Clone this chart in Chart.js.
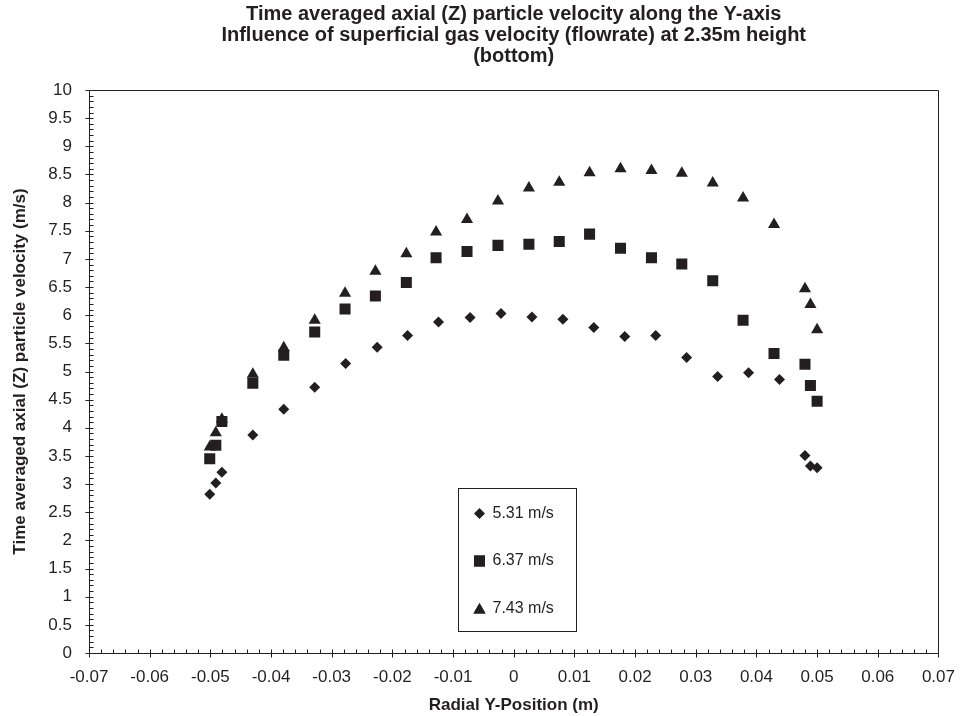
<!DOCTYPE html>
<html>
<head>
<meta charset="utf-8">
<script src="https://cdn.jsdelivr.net/npm/chart.js@4"></script>
<style>
  html, body { margin: 0; padding: 0; background: #fff; }
  #wrap { width: 961px; height: 716px; }
</style>
</head>
<body>
<div id="wrap"><canvas id="chart" width="961" height="716"></canvas></div>
<script>
// Radial positions (m) and time averaged axial velocities (m/s) per flowrate
const xLow = [-0.0501, -0.0491, -0.0481, -0.0430, -0.0379, -0.0328, -0.0277, -0.0225, -0.0175, -0.0124,
  -0.0072, -0.0021, 0.0030, 0.0081, 0.0132, 0.0183, 0.0234, 0.0285, 0.0336, 0.0387, 0.0438, 0.0480, 0.0489, 0.0500];
const vLow = [2.82, 3.02, 3.21, 3.87, 4.33, 4.72, 5.14, 5.43, 5.64, 5.88,
  5.96, 6.03, 5.97, 5.93, 5.78, 5.62, 5.64, 5.25, 4.91, 4.98, 4.86, 3.51, 3.32, 3.29];

const xMid = [-0.0501, -0.0491, -0.0481, -0.0430, -0.0379, -0.0328, -0.0278, -0.0228, -0.0177, -0.0128,
  -0.0077, -0.0026, 0.0025, 0.0075, 0.0125, 0.0176, 0.0227, 0.0277, 0.0328, 0.0378, 0.0429, 0.0480, 0.0489, 0.0500];
const vMid = [3.45, 3.69, 4.11, 4.79, 5.29, 5.70, 6.11, 6.34, 6.58, 7.02,
  7.13, 7.24, 7.26, 7.31, 7.44, 7.19, 7.02, 6.91, 6.61, 5.91, 5.32, 5.13, 4.75, 4.47];

const xHigh = xMid;
const vHigh = [3.66, 3.91, 4.15, 4.95, 5.42, 5.91, 6.39, 6.78, 7.09, 7.48,
  7.70, 8.03, 8.26, 8.36, 8.53, 8.60, 8.57, 8.52, 8.35, 8.08, 7.61, 6.47, 6.19, 5.74];

const seriesLabels = ['5.31 m/s', '6.37 m/s', '7.43 m/s'];

const titleLines = [
  'Time averaged axial (Z) particle velocity along the Y-axis',
  'Influence of superficial gas velocity (flowrate) at 2.35m height',
  '(bottom)'
];
const xTitle = 'Radial Y-Position (m)';
const yTitle = 'Time averaged axial (Z) particle velocity (m/s)';

const INK = '#231f20';
const FONT = "'Liberation Sans', Arial, sans-serif";

function pts(xs, ys) {
  return xs.map((x, i) => ({ x: x, y: ys[i] }));
}

// Excel-style frame: box round the plot, crossing major ticks, inside minor ticks
const framePlugin = {
  id: 'frame',
  afterDraw(chart) {
    const { ctx, chartArea: a, scales } = chart;
    const xs = scales.x, ys = scales.y;
    ctx.save();
    ctx.strokeStyle = INK;
    ctx.lineWidth = 1;
    ctx.beginPath();
    ctx.rect(Math.round(a.left) + 0.5, Math.round(a.top) + 0.5,
      Math.round(a.right - a.left), Math.round(a.bottom - a.top));
    ctx.stroke();

    ctx.beginPath();
    const yb = Math.round(a.bottom) + 0.5;
    for (let i = 0; i <= 70; i++) {
      const v = -0.07 + i * 0.002;
      const px = Math.round(xs.getPixelForValue(v)) + 0.5;
      if (i % 5 === 0) { ctx.moveTo(px, yb - 4); ctx.lineTo(px, yb + 4); }
      else { ctx.moveTo(px, yb); ctx.lineTo(px, yb - 4); }
    }
    const xl = Math.round(a.left) + 0.5;
    for (let i = 0; i <= 100; i++) {
      const v = i * 0.1;
      const py = Math.round(ys.getPixelForValue(v)) + 0.5;
      if (i % 5 === 0) { ctx.moveTo(xl - 4, py); ctx.lineTo(xl + 4, py); }
      else { ctx.moveTo(xl, py); ctx.lineTo(xl + 4, py); }
    }
    ctx.stroke();
    ctx.restore();
  }
};

// Boxed legend sitting inside the plot area
const boxLegend = {
  id: 'boxLegend',
  afterDraw(chart) {
    const { ctx, chartArea: a } = chart;
    const left = Math.round(a.left + 369) + 0.5;
    const top = Math.round(a.top + 398) + 0.5;
    const w = 118, h = 143;
    ctx.save();
    ctx.fillStyle = '#fff';
    ctx.fillRect(left, top, w, h);
    ctx.strokeStyle = INK;
    ctx.lineWidth = 1;
    ctx.strokeRect(left, top, w, h);
    ctx.font = '16px ' + FONT;
    ctx.textBaseline = 'middle';
    chart.data.datasets.forEach((ds, i) => {
      const cy = top + 25 + i * 47.5;
      Chart.helpers.drawPoint(ctx, {
        pointStyle: ds.pointStyle,
        radius: ds.pointRadius,
        borderWidth: 0
      }, left + 21, ds.pointStyle === 'triangle' ? cy + 1.5 : cy);
      ctx.fillStyle = INK;
      ctx.fill();
      ctx.fillText(ds.label, left + 34, cy);
    });
    ctx.restore();
  }
};

const common = {
  backgroundColor: INK,
  borderColor: INK,
  borderWidth: 0,
  showLine: false
};

new Chart(document.getElementById('chart'), {
  type: 'scatter',
  data: {
    datasets: [
      Object.assign({ label: seriesLabels[0], data: pts(xLow, vLow), pointStyle: 'rectRot', pointRadius: 5.5 }, common),
      Object.assign({ label: seriesLabels[1], data: pts(xMid, vMid), pointStyle: 'rect', pointRadius: 7.8 }, common),
      Object.assign({ label: seriesLabels[2], data: pts(xHigh, vHigh), pointStyle: 'triangle', pointRadius: 7 }, common)
    ]
  },
  options: {
    responsive: false,
    animation: false,
    layout: { padding: { left: 0, right: 14, top: 0, bottom: 0 } },
    plugins: {
      legend: { display: false },
      tooltip: { enabled: false },
      title: {
        display: true,
        fullSize: false,
        text: titleLines,
        color: INK,
        font: { family: FONT, size: 20, weight: 'bold', lineHeight: 21 / 20 },
        padding: { top: 4, bottom: 23 }
      }
    },
    scales: {
      x: {
        type: 'linear',
        min: -0.07,
        max: 0.07,
        grid: { display: false },
        border: { display: false },
        afterBuildTicks(scale) {
          scale.ticks = [];
          for (let i = -7; i <= 7; i++) scale.ticks.push({ value: i / 100 });
        },
        ticks: {
          color: INK,
          padding: 6,
          maxRotation: 0,
          font: { family: FONT, size: 17 },
          callback: v => String(Math.round(v * 100) / 100)
        },
        title: {
          display: true,
          text: xTitle,
          color: INK,
          font: { family: FONT, size: 17, weight: 'bold' },
          padding: { top: 8, bottom: 0 }
        },
        afterFit(scale) { scale.height = 63; }
      },
      y: {
        type: 'linear',
        min: 0,
        max: 10,
        grid: { display: false },
        border: { display: false },
        ticks: {
          stepSize: 0.5,
          color: INK,
          padding: 9,
          font: { family: FONT, size: 17 },
          callback: v => String(Math.round(v * 10) / 10)
        },
        title: {
          display: true,
          text: yTitle,
          color: INK,
          font: { family: FONT, size: 17, weight: 'bold' },
          padding: { top: 10, bottom: 0 }
        },
        afterFit(scale) { scale.width = 89; }
      }
    }
  },
  plugins: [framePlugin, boxLegend]
});
</script>
</body>
</html>
